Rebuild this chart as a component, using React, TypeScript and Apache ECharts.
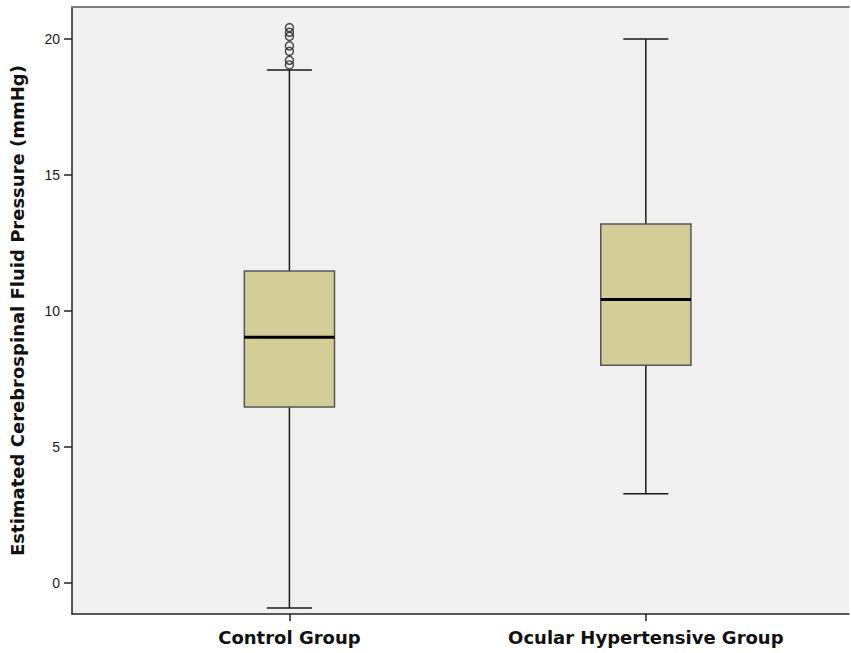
import React, { useEffect, useRef } from "react";
import * as echarts from "echarts";

const categories = ["Control Group", "Ocular Hypertensive Group"];
const whiskerLow = [-0.92, 3.28];
const quartile1 = [6.47, 8.01];
const medians = [9.04, 10.42];
const quartile3 = [11.47, 13.2];
const whiskerHigh = [18.86, 20.0];
const controlOutliers = [20.42, 20.25, 20.1, 19.75, 19.55, 19.22, 19.05];
const yTicks = [0, 5, 10, 15, 20];

export default function App() {
  const ref = useRef<HTMLDivElement>(null);
  useEffect(() => {
    if (!ref.current) return;
    document.body.style.margin = "0";
    const chart = echarts.init(ref.current, null, { renderer: "svg" });
    const boxWidth = 0.253;
    const boxData = categories.map((_, i) => [
      i,
      whiskerLow[i],
      quartile1[i],
      medians[i],
      quartile3[i],
      whiskerHigh[i],
    ]);
    const tickFont = "Liberation Sans, Arial, sans-serif";
    const titleFont = "DejaVu Sans, Verdana, sans-serif";
    chart.setOption({
      animation: false,
      backgroundColor: "#ffffff",
      grid: {
        left: 72,
        right: 2,
        top: 7,
        bottom: 39,
        show: true,
        backgroundColor: "#f0f0f0",
        borderWidth: 0,
      },
      xAxis: [
        {
          type: "value",
          min: -0.61,
          max: 1.57,
          splitLine: { show: false },
          axisLine: { show: true, onZero: false, lineStyle: { color: "#222", width: 1.5 } },
          axisTick: {
            show: true,
            customValues: [0, 1],
            length: 7,
            lineStyle: { color: "#222", width: 1.5 },
          },
          axisLabel: {
            customValues: [0, 1],
            formatter: (v: number) => categories[Math.round(v)] ?? "",
            color: "#111",
            fontFamily: titleFont,
            fontWeight: "bold",
            fontSize: 18,
            margin: 14,
          },
        },
        {
          type: "value",
          position: "top",
          min: -0.61,
          max: 1.57,
          splitLine: { show: false },
          axisLine: { show: true, onZero: false, lineStyle: { color: "#808080", width: 2 } },
          axisTick: { show: false },
          axisLabel: { show: false },
        },
      ],
      yAxis: {
        type: "value",
        min: -1.14,
        max: 21.18,
        splitLine: { show: false },
        axisLine: { show: true, onZero: false, lineStyle: { color: "#222", width: 1.5 } },
        axisTick: {
          show: true,
          customValues: yTicks,
          length: 8,
          lineStyle: { color: "#222", width: 1.5 },
        },
        axisLabel: {
          customValues: yTicks,
          color: "#1a1a1a",
          fontFamily: tickFont,
          fontSize: 14,
          margin: 12,
        },
        name: "Estimated Cerebrospinal Fluid Pressure (mmHg)",
        nameLocation: "middle",
        nameGap: 46,
        nameTextStyle: {
          color: "#111",
          fontFamily: titleFont,
          fontWeight: "bold",
          fontSize: 18,
        },
      },
      series: [
        {
          type: "custom",
          xAxisIndex: 0,
          data: boxData,
          encode: { x: 0, y: [1, 2, 3, 4, 5] },
          renderItem: (params: any, api: any) => {
            const x = api.value(0);
            const lo = api.coord([x, api.value(1)]);
            const b1 = api.coord([x, api.value(2)]);
            const md = api.coord([x, api.value(3)]);
            const b3 = api.coord([x, api.value(4)]);
            const hi = api.coord([x, api.value(5)]);
            const w = api.size([boxWidth, 0])[0];
            const cx = lo[0];
            const capW = w / 4;
            const lineStyle = { stroke: "#1a1a1a", lineWidth: 1.5 };
            return {
              type: "group",
              children: [
                { type: "line", shape: { x1: cx, y1: hi[1], x2: cx, y2: b3[1] }, style: lineStyle },
                { type: "line", shape: { x1: cx, y1: b1[1], x2: cx, y2: lo[1] }, style: lineStyle },
                { type: "line", shape: { x1: cx - capW, y1: hi[1], x2: cx + capW, y2: hi[1] }, style: lineStyle },
                { type: "line", shape: { x1: cx - capW, y1: lo[1], x2: cx + capW, y2: lo[1] }, style: lineStyle },
                {
                  type: "rect",
                  shape: { x: cx - w / 2, y: b3[1], width: w, height: b1[1] - b3[1] },
                  style: { fill: "#d3ce98", stroke: "#555", lineWidth: 1.5 },
                },
                {
                  type: "line",
                  shape: { x1: cx - w / 2, y1: md[1], x2: cx + w / 2, y2: md[1] },
                  style: { stroke: "#000", lineWidth: 3 },
                },
              ],
            };
          },
        },
        {
          type: "scatter",
          xAxisIndex: 0,
          data: controlOutliers.map((v) => [0, v]),
          symbol: "circle",
          symbolSize: 8,
          itemStyle: { color: "rgba(0,0,0,0)", borderColor: "#222", borderWidth: 1.5 },
        },
      ],
    });
    return () => chart.dispose();
  }, []);
  return (
    <div
      ref={ref}
      style={{ width: 851, height: 653, position: "absolute", left: 0, top: 0 }}
    />
  );
}
